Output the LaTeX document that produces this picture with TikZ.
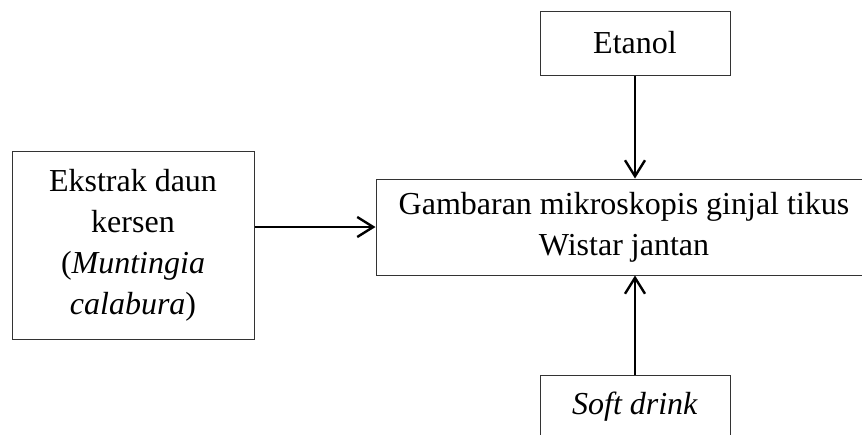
\documentclass[tikz,border=0pt]{standalone}
\usepackage{fontspec}
\setmainfont{Liberation Serif}
\usetikzlibrary{arrows.meta}
\begin{document}
\begin{tikzpicture}[x=1pt,y=-1pt,
  box/.style={draw=black!80,line width=1pt,inner sep=0pt,align=center,font=\fontsize{32}{41}\selectfont},
  lbl/.style={inner sep=0pt,font=\fontsize{32}{41}\selectfont},
  arr/.style={line width=2.4pt,-{Straight Barb[length=16pt,width=20pt,line width=2.4pt]}}]
\useasboundingbox (0,0) rectangle (862,434);
\clip (0,0) rectangle (862,434);
\node[box,minimum width=190,minimum height=64] (etanol) at (635,43) {Etanol};
\node[box,minimum width=496,minimum height=96] (central) at (624,227) {Gambaran mikroskopis ginjal tikus\\Wistar jantan};
\node[box,minimum width=242,minimum height=188] (ekstrak) at (133,245) {Ekstrak daun\\kersen\\(\textit{Muntingia}\\\textit{calabura})};
\node[box,minimum width=190,minimum height=80,anchor=north] (soft) at (635,375) {};
\node[lbl,anchor=base] (softtext) at (635,414) {\textit{Soft drink}};
\draw[arr] (etanol.south) -- (etanol.south |- central.north);
\draw[arr] (central.west -| ekstrak.east) -- (central.west);
\draw[arr] (soft.north) -- (soft.north |- central.south);
\end{tikzpicture}
\end{document}
